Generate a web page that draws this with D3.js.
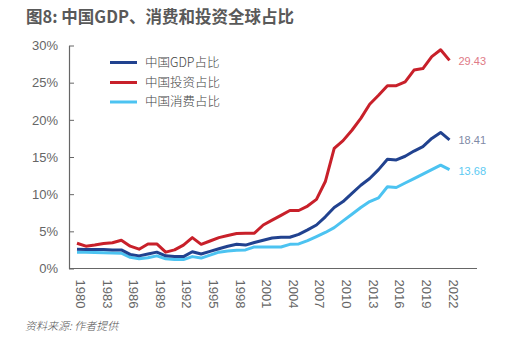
<!DOCTYPE html>
<html><head><meta charset="utf-8">
<script src="https://cdn.jsdelivr.net/npm/d3@7/dist/d3.min.js"></script>
<style>
body{margin:0;background:#fff;}
svg{display:block;}
text{font-family:"Liberation Sans","Noto Sans CJK SC",sans-serif;}
</style></head><body>
<script>
const years = d3.range(1980, 2023);
const gdpShare = [2.6,2.55,2.55,2.55,2.5,2.5,1.9,1.7,1.95,2.2,1.7,1.6,1.6,2.25,1.95,2.3,2.65,3.0,3.25,3.15,3.5,3.8,4.1,4.2,4.2,4.6,5.2,5.85,6.95,8.2,9.0,10.1,11.2,12.1,13.3,14.7,14.6,15.1,15.8,16.4,17.5,18.3,17.3];
const invShare = [3.4,3.0,3.15,3.35,3.47,3.8,3.0,2.6,3.3,3.3,2.2,2.5,3.15,4.15,3.25,3.7,4.15,4.45,4.7,4.75,4.75,5.85,6.5,7.15,7.8,7.8,8.4,9.3,11.7,16.15,17.2,18.6,20.2,22.1,23.3,24.6,24.6,25.1,26.7,26.9,28.5,29.43,28.0];
const conShare = [2.2,2.18,2.15,2.12,2.1,2.05,1.5,1.3,1.45,1.7,1.3,1.2,1.2,1.6,1.4,1.8,2.2,2.35,2.45,2.5,2.9,2.9,2.9,2.9,3.25,3.3,3.75,4.3,4.85,5.5,6.4,7.3,8.2,9.0,9.5,11.0,10.9,11.5,12.1,12.7,13.3,13.9,13.3];
const seriesNames = ["中国GDP占比","中国投资占比","中国消费占比"];
const seriesColors = ["#21428f","#c8202a","#4cc3f1"];
const endLabels = ["18.41","29.43","13.68"];
const endLabelColors = ["#7f8aa6","#e07a86","#5ccaf2"];
const yTicks = [0,5,10,15,20,25,30];
const xTicks = d3.range(1980, 2023, 3);
const titleText = "图8: 中国GDP、消费和投资全球占比";
const sourceText = "资料来源: 作者提供";

const W = 532, H = 340;
const svg = d3.select("body").append("svg").attr("width", W).attr("height", H);

const x = d3.scaleLinear().domain([1980, 2022]).range([77, 449.5]);
const y = d3.scaleLinear().domain([0, 30]).range([268.5, 45.5]);

// title
svg.append("text").attr("x", 26).attr("y", 23)
  .style("font-family", '"Noto Sans CJK SC",sans-serif')
  .style("font-weight", "bold").style("font-size", "16.5px").attr("fill", "#595959")
  .text(titleText);

// y axis
const yAxis = d3.axisLeft(y).tickValues(yTicks).tickFormat(d => d + "%")
  .tickSizeInner(-5).tickSizeOuter(0).tickPadding(11);
const gy = svg.append("g").attr("transform", "translate(69,0)").call(yAxis);
gy.select(".domain").attr("stroke", "#666").attr("stroke-width", 1.2);
gy.selectAll(".tick line").attr("stroke", "#666");
gy.selectAll(".tick text").attr("fill", "#666").style("font-size", "13px")
  .style("font-family", '"Liberation Sans",sans-serif');

// x axis
const xAxis = d3.axisBottom(x).tickValues(xTicks).tickFormat(d => String(d)).tickSize(0);
const gx = svg.append("g").attr("transform", `translate(0,${y(0)})`).call(xAxis);
gx.select(".domain").remove();
gx.append("line").attr("x1", 69).attr("x2", 477).attr("y1", 0).attr("y2", 0)
  .attr("stroke", "#666").attr("stroke-width", 1.2);
gx.selectAll(".tick text")
  .attr("transform", "rotate(90)")
  .attr("x", 11).attr("y", 0).attr("dy", "-0.15em")
  .style("text-anchor", "start").style("dominant-baseline", "middle")
  .attr("fill", "#666").style("font-size", "13px")
  .style("font-family", '"Liberation Sans",sans-serif');

// lines
const allSeries = [gdpShare, invShare, conShare];
const line = d3.line().x((d, i) => x(years[i])).y(d => y(d));
const drawOrder = [2, 0, 1];
drawOrder.forEach(k => {
  svg.append("path").datum(allSeries[k]).attr("d", line)
    .attr("fill", "none").attr("stroke", seriesColors[k]).attr("stroke-width", 3)
    .attr("stroke-linejoin", "round");
});

// end labels
const endY = [140, 61, 171];
allSeries.forEach((s, k) => {
  svg.append("text").attr("x", x(2022) + 9).attr("y", endY[k])
    .attr("dy", "0.35em").attr("fill", endLabelColors[k])
    .style("font-size", "11px").text(endLabels[k]);
});

// legend
const legY = [62.5, 82.5, 102];
seriesNames.forEach((n, k) => {
  svg.append("line").attr("x1", 110).attr("x2", 137).attr("y1", legY[k]).attr("y2", legY[k])
    .attr("stroke", seriesColors[k]).attr("stroke-width", 3);
  svg.append("text").attr("x", 145).attr("y", legY[k]).attr("dy", "0.35em")
    .attr("fill", "#444").style("font-size", "12.5px").style("font-weight", "300")
    .style("font-family", '"Noto Sans CJK SC",sans-serif').text(n);
});

// source
svg.append("text").attr("x", 25).attr("y", 330)
  .attr("fill", "#555").style("font-size", "11px").style("font-style", "italic")
  .style("font-weight", "300")
  .style("font-family", '"Noto Sans CJK SC",sans-serif').text(sourceText);
</script>
</body></html>
